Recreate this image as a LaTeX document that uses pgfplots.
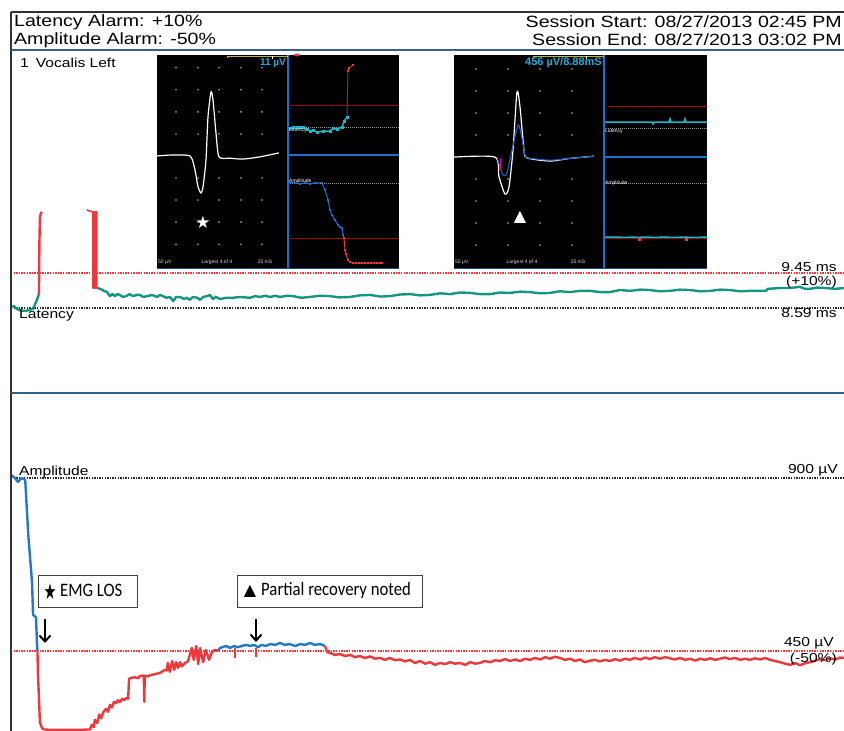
\documentclass[border=0pt]{standalone}
\usepackage{graphicx}
\usepackage{pgfplots}
\pgfplotsset{compat=1.18}
\usepackage{fontspec}
\setmainfont{Liberation Sans}
\newfontfamily\calfont{Carlito}
\newfontfamily\symfont{DejaVu Sans}
\usetikzlibrary{arrows.meta}

\definecolor{latgreen}{RGB}{20,150,128}
\definecolor{alarmred}{RGB}{238,56,60}
\definecolor{ampblue}{RGB}{35,120,200}
\definecolor{framebl}{RGB}{55,95,135}
\definecolor{trcyan}{RGB}{30,185,200}
\definecolor{lblcyan}{RGB}{30,170,220}
\definecolor{insetblue}{RGB}{30,110,210}
\definecolor{darkred}{RGB}{170,25,25}
\definecolor{dotgray}{RGB}{150,150,150}
\definecolor{bracket}{RGB}{190,180,60}
\definecolor{wavblue}{RGB}{40,90,200}

\pgfplotsset{
  panel/.style={scale only axis, hide axis, anchor=south west},
  refdot/.style={line width=1.5pt, dash pattern=on 1.4pt off 1.2pt},
  trace/.style={line width=2.4pt, line join=round},
  thindot/.style={line width=0.6pt, dash pattern=on 0.8pt off 1.2pt},
  trend/.style={line width=1.4pt, mark=square*, mark size=0.8pt},
}
% arial-like text, stretched like the screenshot
\newcommand{\wt}[2]{\scalebox{1.2}[1]{\fontsize{#1}{#1}\selectfont #2}}
\newcommand{\ct}[1]{\scalebox{0.88}[1]{\calfont\fontsize{19}{19}\selectfont #1}}
\newcommand{\tinytxt}[1]{{\fontsize{5}{5}\selectfont #1}}

\pgfplotstableread{
x y
3.8 200
8.2 200
12.4 200
16.8 200
21.0 200
3.8 150
8.2 150
12.4 150
16.8 150
21.0 150
3.8 100
8.2 100
12.4 100
16.8 100
21.0 100
3.8 50
8.2 50
12.4 50
16.8 50
21.0 50
3.8 -50
8.2 -50
12.4 -50
16.8 -50
21.0 -50
3.8 -100
8.2 -100
12.4 -100
16.8 -100
21.0 -100
3.8 -150
8.2 -150
12.4 -150
16.8 -150
21.0 -150
3.8 -200
8.2 -200
12.4 -200
16.8 -200
21.0 -200
}\griddotsL

\pgfplotstableread{
x y
4.4 200
10.8 200
17.2 200
23.6 200
4.4 150
10.8 150
17.2 150
23.6 150
4.4 100
10.8 100
17.2 100
23.6 100
4.4 50
10.8 50
17.2 50
23.6 50
4.4 -50
10.8 -50
17.2 -50
23.6 -50
4.4 -100
10.8 -100
17.2 -100
23.6 -100
4.4 -150
10.8 -150
17.2 -150
23.6 -150
4.4 -200
10.8 -200
17.2 -200
23.6 -200
}\griddotsR

\begin{document}
\begin{tikzpicture}
\path[use as bounding box] (0,0) rectangle (844pt,731pt);

% ---------- latency panel ----------
\begin{axis}[panel, at={(11pt,338pt)}, width=833pt, height=343pt,
  xmin=0, xmax=17, ymin=6.50, ymax=14.93]
\addplot[refdot, alarmred] coordinates {(0,9.45) (17,9.45)};
\addplot[refdot, black!85] coordinates {(0,8.59) (17,8.59)};
\addplot[trace, latgreen] coordinates {
(0,8.61) (0.06,8.64) (0.10,8.59) (0.16,8.54) (0.24,8.52) (0.31,8.52)
(0.37,8.54) (0.45,8.57) (0.53,8.79) (0.57,8.93)};
\addplot[trace, alarmred] coordinates {
(0.57,8.93) (0.58,10.20) (0.59,10.80) (0.61,10.92) (0.63,10.95)};
\addplot[trace, alarmred, line width=1.6pt] coordinates {
(1.55,11.00) (1.61,10.97) (1.67,10.95) (1.67,9.08) (1.69,9.08) (1.69,10.95)
(1.71,10.95) (1.71,9.08) (1.73,9.08) (1.73,10.95) (1.75,10.95) (1.75,9.08) (1.76,9.08)};
\addplot[trace, latgreen] coordinates {
(1.76,9.08) (1.82,9.06) (1.90,9.01) (1.96,8.98) (2.02,8.88) (2.07,8.93) (2.12,8.88)
(2.17,8.93) (2.22,8.91) (2.28,8.86) (2.35,8.88) (2.42,8.93) (2.49,8.88) (2.56,8.91)
(2.63,8.91) (2.70,8.86) (2.78,8.88) (2.88,8.91) (2.98,8.86) (3.04,8.91) (3.10,8.88)
(3.17,8.84) (3.24,8.86) (3.31,8.76) (3.37,8.86) (3.45,8.86) (3.53,8.81) (3.59,8.84)
(3.65,8.79) (3.71,8.86) (3.80,8.84) (3.86,8.79) (3.92,8.86) (4.00,8.88) (4.06,8.91)
(4.12,8.81) (4.18,8.86) (4.27,8.81) (4.39,8.84) (4.53,8.84) (4.67,8.86) (4.88,8.84)
(4.98,8.88) (5.08,8.86) (5.18,8.89) (5.29,8.86) (5.39,8.89) (5.49,8.86) (5.63,8.89)
(5.76,8.88) (5.92,8.84) (6.10,8.86) (6.30,8.89) (6.51,8.88) (6.70,8.85) (6.92,8.86)
(7.12,8.90) (7.33,8.91) (7.53,8.87) (7.73,8.88) (7.94,8.92) (8.14,8.93) (8.35,8.90)
(8.55,8.91) (8.76,8.95) (8.96,8.93) (9.16,8.97) (9.37,8.96) (9.57,8.93) (9.78,8.93)
(9.98,8.97) (10.18,8.96) (10.39,8.99) (10.59,8.98) (10.80,8.95) (11.00,8.96)
(11.20,9.00) (11.41,8.98) (11.61,9.01) (11.82,9.01) (12.02,8.98) (12.22,8.98)
(12.43,9.03) (12.63,9.01) (12.84,9.04) (13.04,9.03) (13.24,9.00) (13.45,9.01)
(13.65,9.04) (13.86,9.03) (14.06,9.00) (14.27,9.01) (14.47,9.04) (14.67,9.03)
(14.88,9.00) (15.08,9.01) (15.41,9.01) (15.45,9.06) (15.70,9.08) (15.90,9.08)
(16.10,9.11) (16.20,9.06) (16.31,9.06) (16.45,9.09) (16.61,9.08) (16.82,9.06) (17.00,9.08)};
\end{axis}

% ---------- amplitude panel ----------
\begin{axis}[panel, at={(11pt,0pt)}, width=833pt, height=338pt,
  xmin=0, xmax=17, ymin=242, ymax=1121]
\addplot[refdot, black!85] coordinates {(0,900) (17,900)};
\addplot[refdot, alarmred] coordinates {(0,450) (17,450)};
\addplot[trace, ampblue] coordinates {
(0,908) (0.08,900) (0.14,890) (0.22,900) (0.29,895) (0.35,757) (0.43,627)
(0.45,544) (0.51,538) (0.53,471) (0.54,450)};
\addplot[trace, alarmred] coordinates {
(0.54,450) (0.55,390) (0.57,330) (0.59,265) (0.63,250) (0.67,246) (0.80,245)
(1.00,245) (1.20,245) (1.40,245) (1.61,246) (1.65,258) (1.69,252) (1.71,271)
(1.76,263) (1.80,285) (1.84,275) (1.88,290) (1.94,300) (1.98,292) (2.02,310)
(2.06,303) (2.10,318) (2.14,314) (2.18,322) (2.22,317) (2.27,326) (2.31,322)
(2.35,328) (2.39,326) (2.41,378) (2.45,380) (2.53,382) (2.59,379) (2.63,385)
(2.71,386) (2.72,318) (2.73,386) (2.80,384) (2.84,387) (2.94,390) (3.04,393)
(3.10,398) (3.14,401) (3.18,399) (3.20,419) (3.24,396) (3.29,424) (3.33,401)
(3.37,421) (3.41,406) (3.45,421) (3.49,410) (3.55,419) (3.61,423) (3.65,440)
(3.69,458) (3.73,427) (3.78,463) (3.82,416) (3.86,458) (3.92,421) (3.98,453)
(4.04,427) (4.10,447) (4.16,453) (4.22,450)};
\addplot[trace, ampblue] coordinates {
(4.22,450) (4.27,458) (4.31,460) (4.39,463) (4.47,458) (4.55,463) (4.63,460)
(4.71,463) (4.80,466) (4.88,463) (4.96,466) (5.04,460) (5.12,466) (5.20,463)
(5.29,468) (5.39,466) (5.49,471) (5.59,466) (5.69,468) (5.80,463) (5.90,468)
(6.00,466) (6.10,471) (6.20,466) (6.31,468) (6.41,463)};
\addplot[trace, alarmred, line width=1.5pt] coordinates {(4.57,458) (4.57,432)};
\addplot[trace, alarmred, line width=1.5pt] coordinates {(5.00,458) (5.00,434)};
\addplot[trace, alarmred] coordinates {
(6.41,463) (6.45,447) (6.51,445) (6.61,440) (6.71,442) (6.82,437) (6.92,440)
(7.02,434) (7.12,437) (7.22,432) (7.33,436) (7.43,430) (7.53,432) (7.63,427)
(7.73,432) (7.84,426) (7.94,428) (8.04,423) (8.14,427) (8.24,419) (8.35,424)
(8.45,417) (8.55,421) (8.65,414) (8.76,419) (8.86,416) (8.96,421) (9.06,417)
(9.16,419) (9.27,414) (9.37,421) (9.47,417) (9.57,419) (9.67,424) (9.78,421)
(9.88,426) (9.98,424) (10.08,429) (10.18,424) (10.29,428) (10.39,424) (10.49,430)
(10.59,427) (10.69,432) (10.80,428) (10.90,434) (11.00,430) (11.10,435) (11.20,432)
(11.31,427) (11.41,430) (11.51,424) (11.61,428) (11.71,421) (11.82,425) (11.92,427)
(12.02,423) (12.12,427) (12.22,424) (12.33,429) (12.43,425) (12.53,430) (12.63,427)
(12.73,432) (12.84,428) (12.94,433) (13.04,429) (13.14,434) (13.24,430) (13.35,434)
(13.45,431) (13.55,428) (13.65,432) (13.76,427) (13.86,430) (13.96,425) (14.06,430)
(14.16,427) (14.27,431) (14.37,427) (14.47,430) (14.57,433) (14.67,429) (14.78,432)
(14.88,427) (14.98,430) (15.08,427) (15.18,431) (15.29,428) (15.39,432) (15.49,427)
(15.59,424) (15.69,421) (15.80,417) (15.90,414) (16.00,419) (16.10,413) (16.20,418)
(16.31,421) (16.41,425) (16.51,429) (16.61,426) (16.71,431) (16.82,428) (16.92,433)
(17.00,432)};
\end{axis}

% ---------- frame and header ----------
\begin{scope}[x=1pt, y=1pt]
\draw[black!80, line width=1.5pt] (11,719) -- (844,719);
\draw[black!80, line width=1.5pt] (11,0) -- (11,719);
\draw[framebl, line width=2pt] (11,681) -- (844,681);
\draw[framebl, line width=2pt] (11,338) -- (844,338);
\node[anchor=west, inner sep=0] at (14,709) {\wt{16.3}{Latency Alarm: +10\%}};
\node[anchor=west, inner sep=0] at (14,691) {\wt{16.3}{Amplitude Alarm: -50\%}};
\node[anchor=east, inner sep=0] at (842,709) {\wt{16.3}{Session Start: 08/27/2013 02:45 PM}};
\node[anchor=east, inner sep=0] at (842,691) {\wt{16.3}{Session End: 08/27/2013 03:02 PM}};
\node[anchor=west, inner sep=0] at (20,668) {\wt{13}{1\hspace{0.45em}Vocalis Left}};
\node[anchor=west, inner sep=0] at (19,416) {\wt{13}{Latency}};
\node[anchor=west, inner sep=0] at (19,259) {\wt{13}{Amplitude}};
\node[anchor=east, inner sep=0] at (837,464) {\wt{13}{9.45 ms}};
\node[anchor=east, inner sep=0] at (837,449) {\wt{13}{(+10\%)}};
\node[anchor=east, inner sep=0] at (837,418) {\wt{13}{8.59 ms}};
\node[anchor=east, inner sep=0] at (838,261) {\wt{13}{900 µV}};
\node[anchor=east, inner sep=0] at (834,88) {\wt{13}{450 µV}};
\node[anchor=east, inner sep=0] at (837,72) {\wt{13}{(-50\%)}};
% callouts
\draw[black!75, line width=0.8pt, fill=white] (38,124) rectangle (137,156);
\node[inner sep=0] at (50,139) {\scalebox{0.85}[1.3]{\symfont\fontsize{17}{17}\selectfont ★}};
\node[anchor=west, inner sep=0] at (60,141) {\ct{EMG LOS}};
\draw[black!75, line width=0.8pt, fill=white] (237,124) rectangle (422,156);
\node[inner sep=0] at (250,140) {\symfont\fontsize{16}{16}\selectfont ▲};
\node[anchor=west, inner sep=0] at (261,141) {\ct{Partial recovery noted}};
\draw[line width=2pt, -{Straight Barb[length=6pt,width=11pt]}] (45,112) -- (45,88);
\draw[line width=2pt, -{Straight Barb[length=6pt,width=11pt]}] (256,112) -- (256,89);
% inset backgrounds
\fill[black] (157,463) rectangle (399,676);
\fill[black] (454,463) rectangle (707,676);
\end{scope}

% ---------- left inset ----------
\begin{axis}[panel, at={(157pt,463pt)}, width=131pt, height=213pt,
  xmin=0, xmax=26.2, ymin=-254, ymax=229]
\addplot[only marks, mark=*, mark size=0.6pt, dotgray] table {\griddotsL};
\addplot[white, line width=1.2pt, smooth, tension=0.4] coordinates {
(0,0) (2.6,2) (6.6,0) (7.6,-32) (8.2,-70) (8.8,-84) (9.2,-70) (9.8,-9)
(10.2,89) (10.8,145) (11.2,127) (11.8,52) (12.4,-2) (14.6,-5) (17.2,-7)
(20.6,-2) (24.4,7)};
\node[white, inner sep=0] at (axis cs:9.2,-150) {\symfont\fontsize{17}{17}\selectfont ★};
\end{axis}
\begin{axis}[panel, at={(288pt,576pt)}, width=111pt, height=100pt,
  xmin=0, xmax=111, ymin=7.50, ymax=11.40]
\addplot[thindot, darkred] coordinates {(0,9.45) (111,9.45)};
\addplot[thindot, dotgray] coordinates {(0,8.59) (111,8.59)};
\addplot[trend, trcyan] coordinates {
(2,8.55) (5,8.59) (9,8.59) (12,8.57) (15,8.59) (19,8.51) (22,8.43) (25,8.47)
(29,8.39) (35,8.43) (42,8.43) (45,8.55) (49,8.51) (54,8.59) (56,8.82) (59,8.98)};
\addplot[line width=1pt, latgreen!70!black] coordinates {(59,8.98) (60,10.78)};
\addplot[trend, alarmred, line width=0.8pt] coordinates {(60,10.78) (61,10.89) (65,11.01)};
\end{axis}
\begin{axis}[panel, at={(288pt,463pt)}, width=111pt, height=113pt,
  xmin=0, xmax=111, ymin=205, ymax=1129]
\addplot[thindot, dotgray] coordinates {(0,900) (111,900)};
\addplot[thindot, darkred] coordinates {(0,450) (111,450)};
\addplot[trend, insetblue, line width=1pt] coordinates {
(1,908) (7,900) (12,892) (17,900) (22,892) (27,900) (34,900) (37,843) (40,761)
(42,679) (44,638) (47,597) (50,556) (52,540) (54,532) (55,474) (56,450)};
\addplot[trend, alarmred, line width=1pt] coordinates {
(56,450) (57,352) (58,319) (60,270) (62,254) (65,245) (68,245) (71,245) (74,245)
(77,245) (80,245) (83,245) (86,245) (89,245) (92,245) (94,245)};
\end{axis}

% ---------- right inset ----------
\begin{axis}[panel, at={(454pt,463pt)}, width=150pt, height=213pt,
  xmin=0, xmax=30, ymin=-252, ymax=232]
\addplot[only marks, mark=*, mark size=0.6pt, dotgray] table {\griddotsR};
\addplot[white, line width=1.2pt, smooth, tension=0.4] coordinates {
(0,0) (8.2,0) (9.0,-45) (10.2,-84) (11.0,-68) (11.8,16) (12.6,148) (13.2,114)
(14.0,16) (14.6,-2) (19.2,-9) (23.2,-3) (28.0,2)};
\addplot[wavblue, line width=1.1pt, smooth, tension=0.4] coordinates {
(8.6,0) (9.8,-41) (10.6,-36) (11.6,16) (12.8,73) (13.4,54) (14.2,5) (14.8,-2)
(19.2,-7) (23.2,-3) (28.0,2)};
\addplot[magenta, line width=0.8pt, -{Stealth[length=2.5pt,width=2.5pt]}] coordinates {(9.2,-2) (9.2,-30)};
\node[white, inner sep=0] at (axis cs:13.2,-136) {\symfont\fontsize{16}{16}\selectfont ▲};
\end{axis}
\begin{axis}[panel, at={(604pt,574pt)}, width=103pt, height=102pt,
  xmin=0, xmax=103, ymin=7.46, ymax=11.44]
\addplot[thindot, darkred] coordinates {(0,9.45) (103,9.45)};
\addplot[thindot, dotgray] coordinates {(0,8.59) (103,8.59)};
\addplot[line width=1.6pt, trcyan] coordinates {
(0,8.82) (20,8.82) (35,8.82) (48,8.82) (49,8.75) (50,8.82) (65,8.82) (66,8.94)
(67,8.82) (80,8.82) (81,8.94) (82,8.82) (103,8.82)};
\end{axis}
\begin{axis}[panel, at={(604pt,463pt)}, width=103pt, height=111pt,
  xmin=0, xmax=103, ymin=205, ymax=1113]
\addplot[thindot, dotgray] coordinates {(0,900) (103,900)};
\addplot[thindot, darkred] coordinates {(0,450) (103,450)};
\addplot[line width=1.6pt, trcyan] coordinates {
(0,456) (10,458) (20,455) (30,457) (34,455) (40,458) (50,455) (60,457) (70,455)
(80,457) (90,455) (103,457)};
\addplot[only marks, mark=square*, mark size=1pt, alarmred] coordinates {(35,440) (82,442)};
\end{axis}

% ---------- inset decorations ----------
\begin{scope}[x=1pt, y=1pt]
\draw[insetblue, line width=1.2pt] (288,463) -- (288,676);
\draw[insetblue, line width=1.2pt] (288,576) -- (399,576);
\draw[insetblue, line width=1.2pt] (604,463) -- (604,676);
\draw[insetblue, line width=1.2pt] (604,574) -- (707,574);
\draw[insetblue!70!black, line width=0.8pt] (157,463) -- (399,463);
\draw[insetblue!70!black, line width=0.8pt] (454,463) -- (707,463);
\draw[bracket, line width=0.8pt] (227,673) -- (227,675) -- (287,675) -- (287,673);
\draw[white, line width=0.8pt] (272,675) -- (272,672);
\draw[bracket, line width=0.8pt] (533,673) -- (533,675) -- (603,675) -- (603,673);
\draw[white, line width=0.8pt] (586,675) -- (586,672);
\fill[alarmred] (297,676) ellipse (3 and 1.5);
\node[anchor=east, inner sep=0, lblcyan] at (286,668) {\fontsize{10}{10}\selectfont\bfseries 11 µV};
\node[anchor=east, inner sep=0, lblcyan] at (602,668) {\fontsize{11}{11}\selectfont\bfseries 456 µV/8.88mS};
\node[anchor=west, inner sep=0, white!85!black] at (158,469) {\tinytxt{50 µV}};
\node[inner sep=0, white!85!black] at (217,469) {\tinytxt{Largest 4 of 4}};
\node[inner sep=0, white!85!black] at (265,469) {\tinytxt{25 mS}};
\node[anchor=west, inner sep=0, white!85!black] at (455,469) {\tinytxt{50 µV}};
\node[inner sep=0, white!85!black] at (522,469) {\tinytxt{Largest 4 of 4}};
\node[inner sep=0, white!85!black] at (578,469) {\tinytxt{25 mS}};
\node[anchor=west, inner sep=0, white] at (289,601) {\tinytxt{Latency}};
\node[anchor=west, inner sep=0, white] at (289,550) {\tinytxt{Amplitude}};
\node[anchor=west, inner sep=0, white] at (605,600) {\tinytxt{Latency}};
\node[anchor=west, inner sep=0, white] at (605,548) {\tinytxt{Amplitude}};
\end{scope}
\end{tikzpicture}
\end{document}
